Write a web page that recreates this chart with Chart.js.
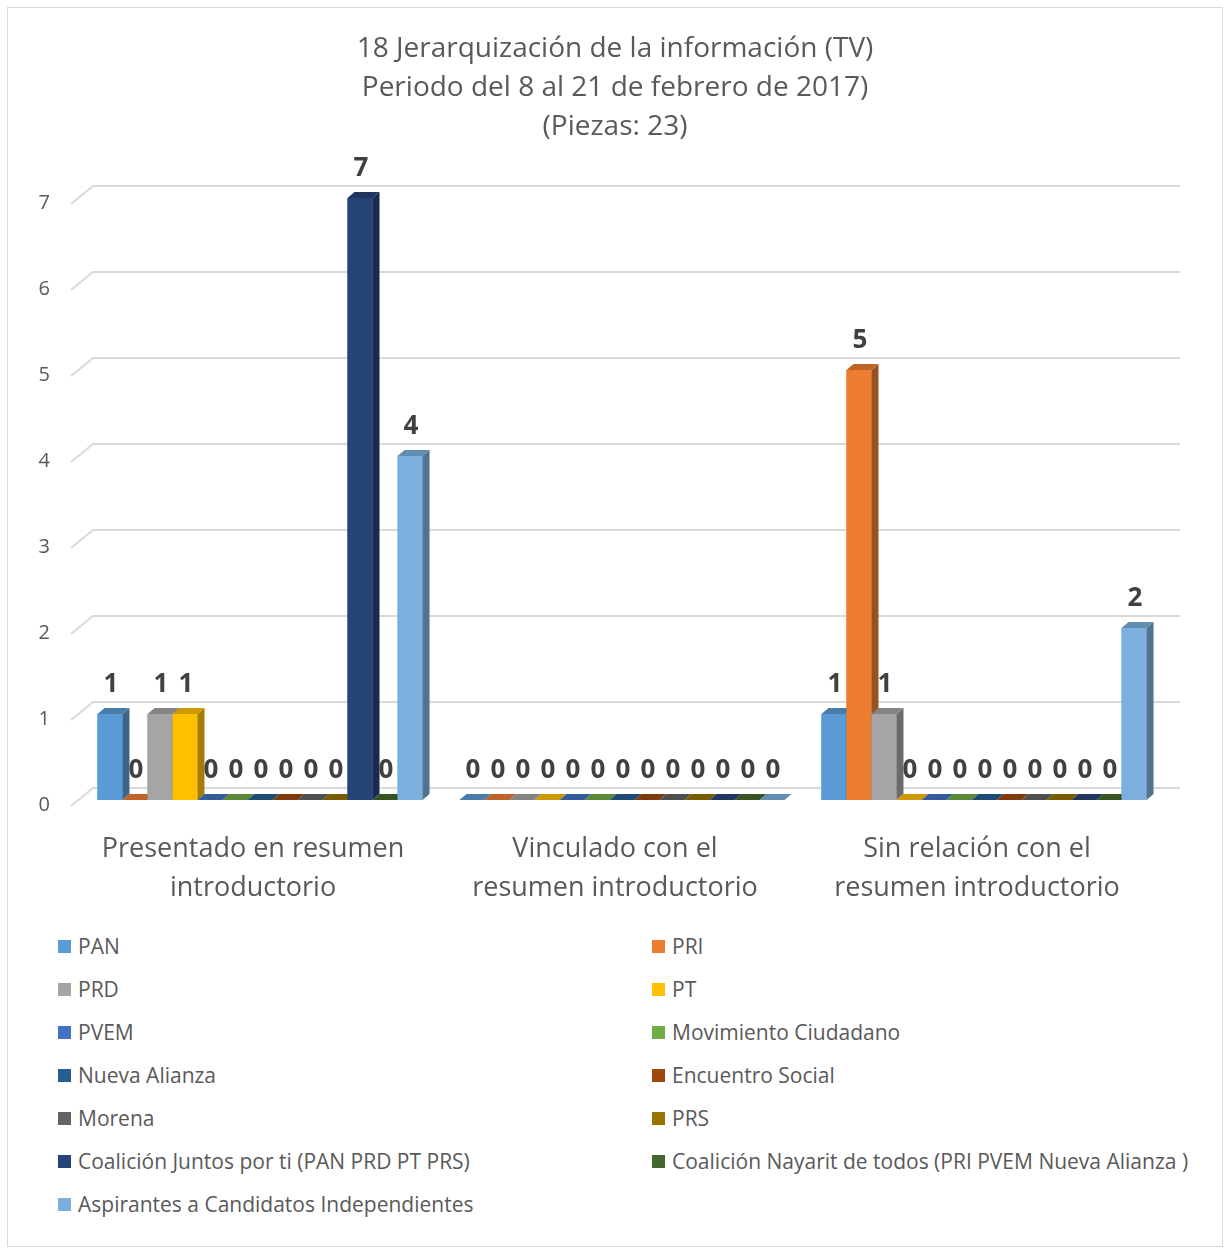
<!DOCTYPE html>
<html>
<head>
<meta charset="utf-8">
<script src="https://cdn.jsdelivr.net/npm/chart.js@4.4.0/dist/chart.umd.min.js"></script>
<style>
  body { margin: 0; background: #fff; font-family: "Open Sans", sans-serif; }
  #wrap { position: absolute; left: 7px; top: 7px; width: 1216px; height: 1240px; border: 1px solid #d9d9d9; box-sizing: border-box; }
  #box { position: absolute; left: 0; top: 0; width: 1214px; height: 910px; }
  .item { position: absolute; height: 26px; display: flex; align-items: center; font-size: 21px; color: #595959; white-space: nowrap; }
  .item i { display: inline-block; width: 13px; height: 13px; margin-right: 7px; }
</style>
</head>
<body>
<div id="wrap">
  <div id="box"><canvas id="aChart"></canvas></div>
  <div id="legend"></div>
</div>
<script>
let categories = [
  ["Presentado en resumen", "introductorio"],
  ["Vinculado con el", "resumen introductorio"],
  ["Sin relación con el", "resumen introductorio"],
]

let seriesNames = [
  "PAN", "PRI", "PRD", "PT", "PVEM", "Movimiento Ciudadano", "Nueva Alianza",
  "Encuentro Social", "Morena", "PRS", "Coalición Juntos por ti (PAN PRD PT PRS)",
  "Coalición Nayarit de todos (PRI PVEM Nueva Alianza )", "Aspirantes a Candidatos Independientes",
]

// one value per category
let pan = [1, 0, 1]
let pri = [0, 0, 5]
let prd = [1, 0, 1]
let pt = [1, 0, 0]
let pvem = [0, 0, 0]
let movimiento = [0, 0, 0]
let nuevaAlianza = [0, 0, 0]
let encuentro = [0, 0, 0]
let morena = [0, 0, 0]
let prs = [0, 0, 0]
let juntos = [7, 0, 0]
let nayarit = [0, 0, 0]
let aspirantes = [4, 0, 2]

let yTicks = [0, 1, 2, 3, 4, 5, 6, 7]

let colors = [
  "#5B9BD5", "#ED7D31", "#A5A5A5", "#FFC000", "#4472C4", "#70AD47", "#255E91",
  "#9E480E", "#636363", "#997300", "#264478", "#43682B", "#7CAFDD",
]

let values = [pan, pri, prd, pt, pvem, movimiento, nuevaAlianza, encuentro, morena, prs, juntos, nayarit, aspirantes]

function shade(hex, f) {
  let n = parseInt(hex.slice(1), 16)
  let r = Math.round(((n >> 16) & 255) * f)
  let g = Math.round(((n >> 8) & 255) * f)
  let b = Math.round((n & 255) * f)
  return "rgb(" + r + "," + g + "," + b + ")"
}

function poly(ctx, pts, fill) {
  ctx.beginPath()
  ctx.moveTo(pts[0][0], pts[0][1])
  for (let k = 1; k < pts.length; k++) ctx.lineTo(pts[k][0], pts[k][1])
  ctx.closePath()
  ctx.fillStyle = fill
  ctx.fill()
}

const dx = 7, dy = -6

// fake excel 3d look: back wall gridlines, side + top faces, value labels
let bars3d = {
  id: "bars3d",
  beforeDatasetsDraw(chart) {
    let ctx = chart.ctx, area = chart.chartArea, y = chart.scales.y
    ctx.save()
    ctx.strokeStyle = "#d9d9d9"
    ctx.lineWidth = 2
    yTicks.forEach(v => {
      let py = y.getPixelForValue(v)
      ctx.beginPath()
      ctx.moveTo(area.left - 8, py + 6)
      ctx.lineTo(area.left + 14, py - 12)
      ctx.lineTo(area.right + 15, py - 12)
      ctx.stroke()
    })
    ctx.restore()
  },
  afterDatasetsDraw(chart) {
    let ctx = chart.ctx
    let labels = []
    ctx.save()
    for (let c = 0; c < chart.data.labels.length; c++) {
      chart.data.datasets.forEach((ds, i) => {
        let el = chart.getDatasetMeta(i).data[c]
        let p = el.getProps(["x", "y", "base", "width"], true)
        let x0 = p.x - p.width / 2, x1 = p.x + p.width / 2
        let col = colors[i]
        ctx.fillStyle = col
        ctx.fillRect(x0, p.y, p.width, p.base - p.y)
        poly(ctx, [[x1, p.y], [x1 + dx, p.y + dy], [x1 + dx, p.base + dy], [x1, p.base]], shade(col, 0.65))
        poly(ctx, [[x0, p.y], [x1, p.y], [x1 + dx, p.y + dy], [x0 + dx, p.y + dy]], shade(col, 0.8))
        labels.push([String(ds.data[c]), p.x + 1, p.y - 29])
      })
    }
    ctx.fillStyle = "#404040"
    ctx.font = "bold 26px 'Open Sans'"
    ctx.textAlign = "center"
    ctx.textBaseline = "middle"
    labels.forEach(l => ctx.fillText(l[0], l[1], l[2]))
    ctx.restore()
  },
}

let datasets = seriesNames.map((name, i) => ({
  label: name,
  data: values[i],
  backgroundColor: colors[i],
  borderWidth: 0,
  categoryPercentage: 0.898,
  barPercentage: 1.0,
}))

let aChart = new Chart(document.getElementById("aChart"), {
  type: "bar",
  data: { labels: categories, datasets: datasets },
  options: {
    responsive: true,
    maintainAspectRatio: false,
    animation: false,
    layout: { padding: 0 },
    plugins: {
      legend: { display: false },
      tooltip: { enabled: false },
      title: {
        display: true,
        text: ["18 Jerarquización de la información (TV)", "Periodo del 8 al 21 de febrero de 2017)", "(Piezas: 23)"],
        color: "#595959",
        font: { family: "'Open Sans'", size: 28, weight: "normal", lineHeight: 1.393 },
        padding: { top: 22, bottom: 51 },
      },
    },
    scales: {
      x: {
        grid: { display: false, drawTicks: false },
        border: { display: false },
        ticks: { color: "#595959", font: { family: "'Open Sans'", size: 27, lineHeight: 1.444 }, padding: 30, labelOffset: -7, maxRotation: 0 },
        afterFit(scale) { scale.height = 118 },
      },
      y: {
        min: 0,
        max: 7,
        grid: { display: false, drawTicks: false },
        border: { display: false },
        ticks: { stepSize: 1, color: "#595959", font: { family: "'Open Sans'", size: 20 }, padding: 29, labelOffset: 5 },
        afterFit(scale) { scale.width = 71 },
      },
      // empty right axis, only keeps room on the right so the title stays centred
      yRight: {
        position: "right",
        min: 0,
        max: 7,
        grid: { display: false, drawTicks: false },
        border: { display: false },
        ticks: { display: false },
        afterFit(scale) { scale.width = 57 },
      },
    },
  },
  plugins: [bars3d],
})

// legend in two columns, like the excel one
let legend = document.getElementById("legend")
seriesNames.forEach((name, i) => {
  let d = document.createElement("div")
  d.className = "item"
  d.style.left = (i % 2 === 0 ? 50 : 644) + "px"
  d.style.top = (938 + 43 * Math.floor(i / 2) - 13) + "px"
  d.innerHTML = '<i style="background:' + colors[i] + '"></i>' + name
  legend.appendChild(d)
})
</script>
</body>
</html>
